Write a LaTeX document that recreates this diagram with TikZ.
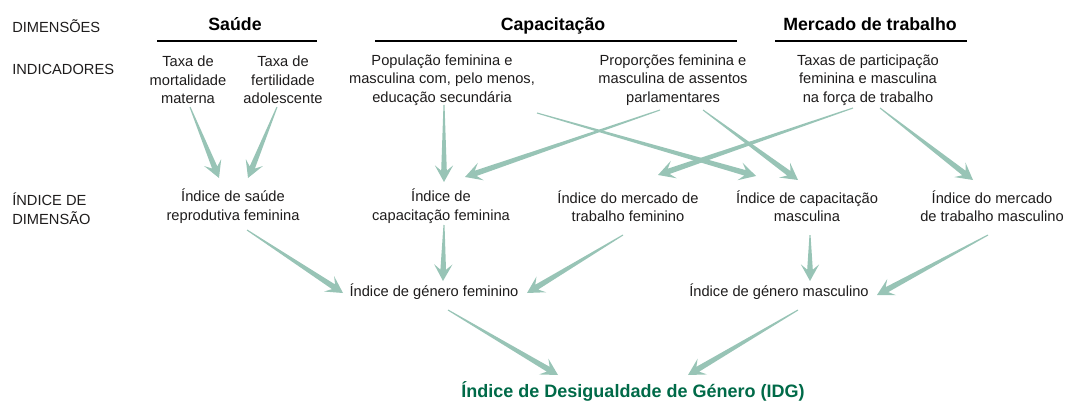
\documentclass[tikz,border=0pt]{standalone}
\usepackage{fontspec}
\setmainfont{Liberation Sans}
\usetikzlibrary{calc}
\definecolor{setacor}{RGB}{152,196,182}
\definecolor{verdeidg}{RGB}{0,106,72}
\definecolor{texto}{RGB}{30,28,28}
\tikzstyle{rotulo}=[anchor=west,align=left,inner sep=0pt,font=\fontsize{11}{14}\selectfont,text=texto]
\tikzstyle{dimensao}=[anchor=base,inner sep=0pt,font=\fontsize{13.3}{15}\selectfont\bfseries,text=black]
\tikzstyle{caixa}=[align=center,inner sep=0pt,font=\fontsize{11}{13.8}\selectfont,text=texto]
\tikzstyle{titulo}=[inner sep=0pt,font=\fontsize{13.5}{16}\selectfont\bfseries,text=verdeidg]
\tikzstyle{traco}=[draw,line width=1pt,black]
\tikzstyle{seta}=[fill=setacor]
% tapered arrow: thin at the start, wide head at the end
\newcommand{\seta}[2]{%
  \fill[seta] let \p1=(#1), \p2=(#2), \n1={atan2(\y2-\y1,\x2-\x1)} in
    ($(\p1)+(\n1+90:0.4pt)$) -- ($(\p2)+(\n1:-8.5pt)+(\n1+90:2.1pt)$)
    -- ($(\p2)+(\n1:-12.5pt)+(\n1+90:6.9pt)$) -- (\p2)
    -- ($(\p2)+(\n1:-12.5pt)+(\n1-90:6.9pt)$) -- ($(\p2)+(\n1:-8.5pt)+(\n1-90:2.1pt)$)
    -- ($(\p1)+(\n1-90:0.4pt)$) -- cycle;}

\begin{document}
\begin{tikzpicture}[x=0.75pt,y=-0.75pt]
\useasboundingbox (0,0) rectangle (1068,403);

% left column
\node[rotulo] (dim) at (12,26) {DIMENSÕES};
\node[rotulo] (ind) at (12,69) {INDICADORES};
\node[rotulo] (idim) at (12,209) {ÍNDICE DE\\DIMENSÃO};

% dimensions
\node[dimensao] (dsaude) at (235,31) {Saúde};
\node[dimensao] (dcapac) at (553,31) {Capacitação};
\node[dimensao] (dmerc) at (870,31) {Mercado de trabalho};
\draw[traco] (157,41) -- (317,41);
\draw[traco] (375,41) -- (737,41);
\draw[traco] (775,41) -- (967,41);

% indicators
\node[caixa] (mort) at (188,80) {Taxa de\\mortalidade\\materna};
\node[caixa] (fert) at (283,80) {Taxa de\\fertilidade\\adolescente};
\node[caixa] (pop) at (442,80) {População feminina e\\masculina com, pelo menos,\\educação secundária};
\node[caixa] (prop) at (673,80) {Proporções feminina e\\masculina de assentos\\parlamentares};
\node[caixa] (taxas) at (868,80) {Taxas de participação\\feminina e masculina\\na força de trabalho};

% dimension indices
\node[caixa] (saude) at (233,206) {Índice de saúde\\reprodutiva feminina};
\node[caixa] (capfem) at (441,206) {Índice de\\capacitação feminina};
\node[caixa] (merfem) at (628,206) {Índice do mercado de\\trabalho feminino};
\node[caixa] (capmasc) at (807,206) {Índice de capacitação\\masculina};
\node[caixa] (mermasc) at (992,206) {Índice do mercado\\de trabalho masculino};

% gender indices
\node[caixa] (genfem) at (434,292) {Índice de género feminino};
\node[caixa] (genmasc) at (779,292) {Índice de género masculino};

\node[titulo] (idg) at (633,391) {Índice de Desigualdade de Género (IDG)};

% arrows
\foreach \src/\sx/\sy/\dst/\tx/\ty in {mort/2/27/saude/-14/-28, fert/-6/27/saude/15/-28,
    pop/2/25/capfem/3/-24, pop/95/33/capmasc/-51/-30, prop/-13/30/capfem/24/-29,
    prop/30/30/capmasc/-9/-26, taxas/-15/28/merfem/30/-31, taxas/12/28/mermasc/-19/-26,
    saude/14/24/genfem/-91/1, capfem/3/19/genfem/9/-11, merfem/-5/29/genfem/93/1,
    capmasc/3/29/genmasc/31/-11, mermasc/-4/29/genmasc/98/3,
    genfem/14/18/idg/-75/-16, genmasc/19/18/idg/55/-16}
  \seta{$(\src.center)+(\sx,\sy)$}{$(\dst.center)+(\tx,\ty)$};

\end{tikzpicture}
\end{document}
